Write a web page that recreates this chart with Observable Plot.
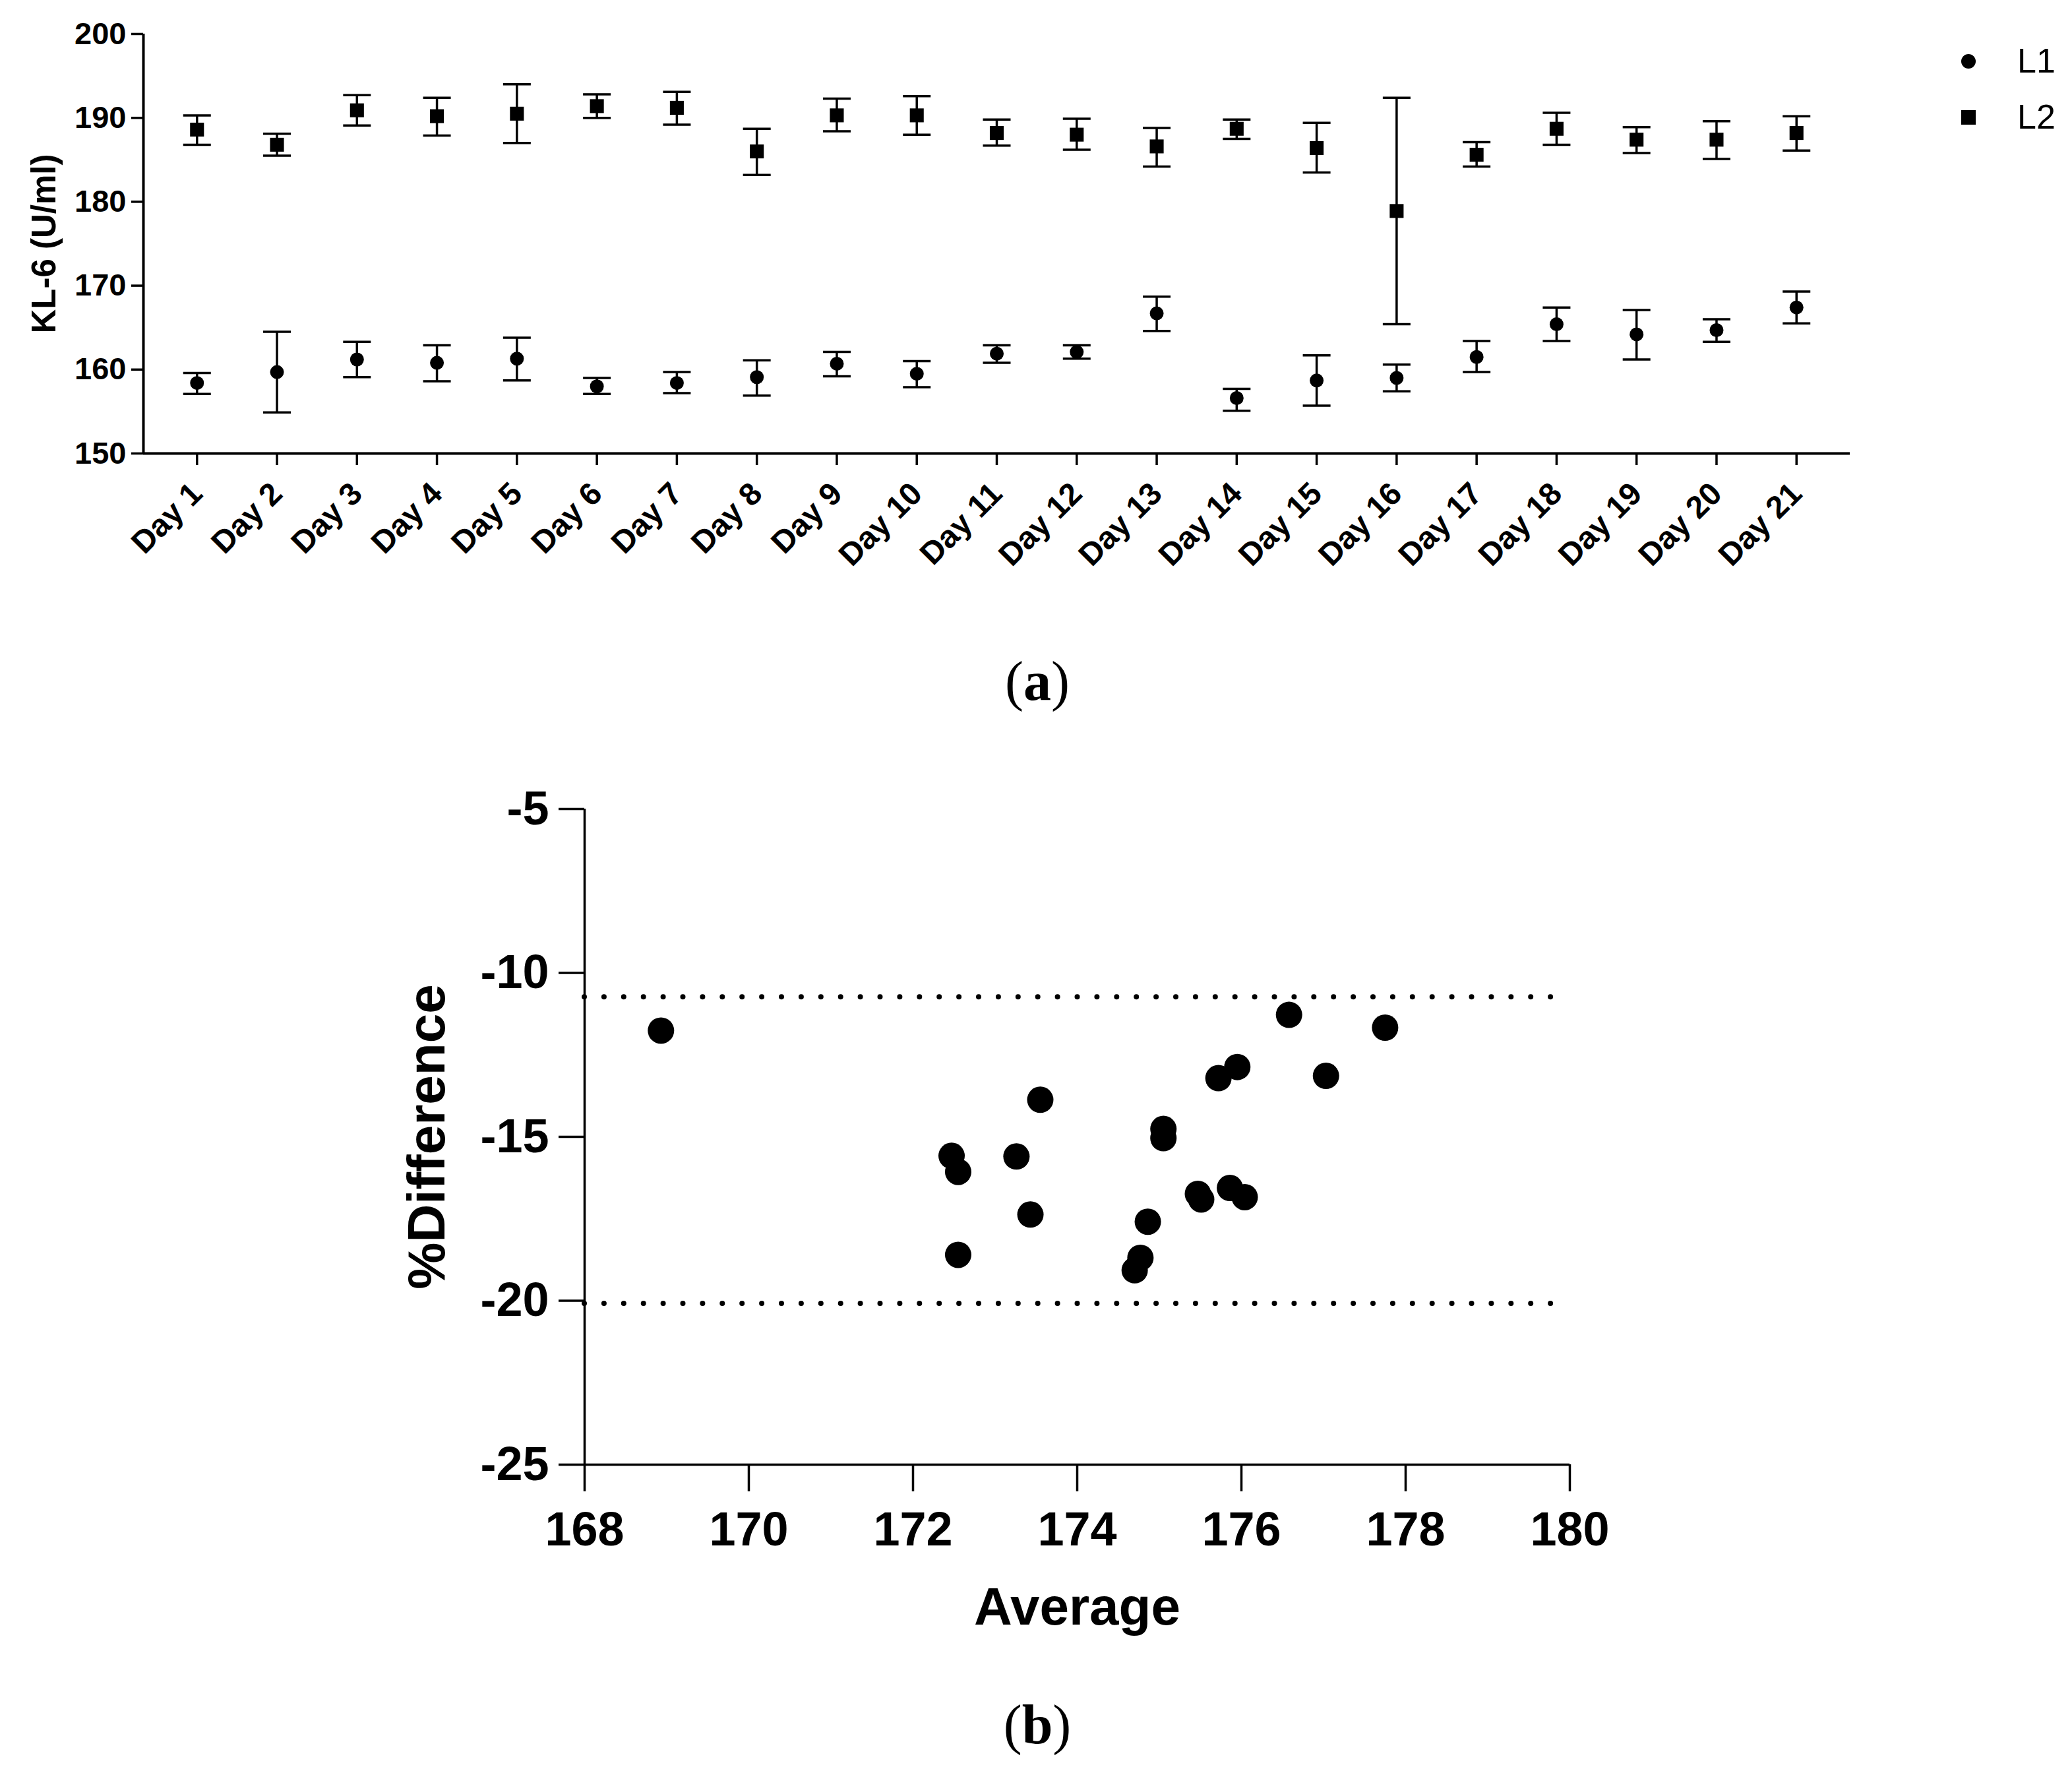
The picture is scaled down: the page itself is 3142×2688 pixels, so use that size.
<!DOCTYPE html>
<html>
<head>
<meta charset="utf-8">
<script src="https://cdn.jsdelivr.net/npm/d3@7"></script>
<script src="https://cdn.jsdelivr.net/npm/@observablehq/plot@0.6"></script>
<style>
  body { margin: 0; background: #fff; }
  #page { position: relative; width: 3142px; height: 2688px; background: #fff; overflow: hidden; }
  .abs { position: absolute; }
  .cap { font-family: "Liberation Serif", "Times New Roman", serif; font-size: 84px; line-height: 1; text-align: center; width: 400px; color: #000; }
</style>
</head>
<body>
<div id="page"></div>
<script>
// ---------- Panel (a) data ----------
const days = ["Day 1","Day 2","Day 3","Day 4","Day 5","Day 6","Day 7","Day 8","Day 9","Day 10","Day 11",
              "Day 12","Day 13","Day 14","Day 15","Day 16","Day 17","Day 18","Day 19","Day 20","Day 21"];
const l1Mean = [158.4,159.7,161.2,160.8,161.3,158.0,158.4,159.1,160.7,159.5,161.9,162.1,166.7,156.6,158.7,159.0,161.5,165.4,164.2,164.7,167.4];
const l1Low  = [157.1,154.9,159.1,158.6,158.7,157.1,157.2,156.9,159.2,157.9,160.8,161.3,164.6,155.1,155.7,157.4,159.7,163.4,161.2,163.3,165.5];
const l1High = [159.6,164.5,163.3,162.9,163.8,159.0,159.7,161.1,162.1,161.0,162.9,162.9,168.7,157.7,161.7,160.6,163.4,167.4,167.1,166.0,169.3];
const l2Mean = [188.6,186.8,190.9,190.2,190.5,191.4,191.2,186.0,190.3,190.3,188.2,188.0,186.6,188.7,186.4,178.9,185.6,188.7,187.4,187.4,188.2];
const l2Low  = [186.8,185.5,189.1,187.9,187.0,190.0,189.2,183.2,188.4,188.0,186.7,186.2,184.2,187.5,183.5,165.4,184.2,186.8,185.8,185.1,186.1];
const l2High = [190.3,188.1,192.7,192.4,194.0,192.8,193.1,188.7,192.3,192.6,189.8,189.9,188.8,189.8,189.4,192.4,187.1,190.6,188.9,189.6,190.2];
const yTicksA = [150,160,170,180,190,200];
const seriesNames = ["L1","L2"];

// ---------- Panel (b) data ----------
const average = [168.93,172.47,172.55,172.55,173.26,173.55,173.43,174.86,174.77,174.70,175.05,175.05,175.47,175.51,175.86,176.04,175.72,175.95,176.58,177.03,177.75];
const pctDiff = [-11.76,-15.58,-16.07,-18.60,-15.60,-13.87,-17.37,-17.59,-18.69,-19.07,-14.76,-15.04,-16.74,-16.91,-16.56,-16.84,-13.21,-12.87,-11.28,-13.14,-11.67];
const limitsB = [-10.73,-20.08];
const limitSpan = [168, 180];
const xTicksB = [168,170,172,174,176,178,180];
const yTicksB = [-5,-10,-15,-20,-25];

const page = document.getElementById("page");
const FONT = "'Liberation Sans', Arial, Helvetica, sans-serif";
const plain = d => String(d); // hyphen-minus as in the original

// ---------- Panel (a) ----------
const dayIdx = days.map((d, i) => i + 1);
const rowsA = [
  ...days.map((d, i) => ({i: i + 1, series: "L1", mean: l1Mean[i], lo: l1Low[i], hi: l1High[i]})),
  ...days.map((d, i) => ({i: i + 1, series: "L2", mean: l2Mean[i], lo: l2Low[i], hi: l2High[i]}))
];
const capSymbol = {
  draw(ctx, size) {
    const r = Math.sqrt(size / Math.PI);
    ctx.moveTo(-r, 0);
    ctx.lineTo(r, 0);
  }
};
const xDomA = [0.33, 21.67];
const plotA = Plot.plot({
  width: 3142, height: 940,
  marginTop: 51, marginBottom: 253, marginLeft: 217, marginRight: 337,
  style: {fontFamily: FONT, background: "transparent", color: "black", overflow: "visible"},
  x: {domain: xDomA},
  y: {domain: [150, 200]},
  marks: [
    Plot.ruleX(rowsA, {x: "i", y1: "lo", y2: "hi", stroke: "black", strokeWidth: 3.5}),
    Plot.dot(rowsA, {x: "i", y: "hi", symbol: capSymbol, r: 21, fill: "none", stroke: "black", strokeWidth: 3.5}),
    Plot.dot(rowsA, {x: "i", y: "lo", symbol: capSymbol, r: 21, fill: "none", stroke: "black", strokeWidth: 3.5}),
    Plot.dot(rowsA.filter(d => d.series === seriesNames[0]), {x: "i", y: "mean", r: 10.5, fill: "black", stroke: "none", symbol: "circle"}),
    Plot.dot(rowsA.filter(d => d.series === seriesNames[1]), {x: "i", y: "mean", r: 11.9, fill: "black", stroke: "none", symbol: "square"}),
    Plot.ruleY([150], {stroke: "black", strokeWidth: 4}),
    Plot.ruleX([xDomA[0]], {stroke: "black", strokeWidth: 4}),
    Plot.axisY({ticks: yTicksA, tickFormat: plain, tickSize: 18, tickPadding: 8, fontSize: 47, fontWeight: "bold",
                strokeWidth: 3.5, label: null}),
    Plot.axisY({ticks: [], label: "KL-6 (U/ml)", labelAnchor: "center", labelArrow: "none",
                labelOffset: 170, fontSize: 51, fontWeight: "bold"}),
    Plot.axisX({ticks: dayIdx, tickFormat: i => days[i - 1], tickRotate: -45, tickSize: 18, tickPadding: 35,
                fontSize: 48, fontWeight: "bold", strokeWidth: 3.5, label: null})
  ]
});
plotA.style.position = "absolute";
plotA.style.left = "0px";
plotA.style.top = "0px";
page.appendChild(plotA);

// Legend for panel (a)
const legendNS = "http://www.w3.org/2000/svg";
const legend = document.createElementNS(legendNS, "svg");
legend.setAttribute("width", "240");
legend.setAttribute("height", "200");
legend.style.position = "absolute";
legend.style.left = "2900px";
legend.style.top = "40px";
legend.innerHTML = `
  <circle cx="85" cy="53" r="11" fill="black"/>
  <rect x="74" y="127" width="22" height="22" fill="black"/>
  <text x="159" y="70" font-family="${FONT.replace(/'/g, "")}" font-size="52" fill="black">${seriesNames[0]}</text>
  <text x="159" y="155" font-family="${FONT.replace(/'/g, "")}" font-size="52" fill="black">${seriesNames[1]}</text>`;
page.appendChild(legend);

// Caption (a)
const capA = document.createElement("div");
capA.className = "abs cap";
capA.style.left = (1573 - 200) + "px";
capA.style.top = "991px";
capA.innerHTML = "(<b>a</b>)";
page.appendChild(capA);

// ---------- Panel (b) ----------
const rowsB = average.map((a, i) => ({a, d: pctDiff[i]}));
const plotB = Plot.plot({
  width: 3142, height: 1380,
  marginTop: 76, marginBottom: 310, marginLeft: 886, marginRight: 762,
  style: {fontFamily: FONT, background: "transparent", color: "black", overflow: "visible"},
  x: {domain: [168, 180]},
  y: {domain: [-25, -5]},
  marks: [
    Plot.ruleY(limitsB, {x1: limitSpan[0], x2: limitSpan[1], stroke: "black", strokeWidth: 8,
                         strokeDasharray: "0 29.9", strokeLinecap: "round"}),
    Plot.dot(rowsB, {x: "a", y: "d", r: 20, fill: "black", stroke: "none"}),
    Plot.ruleY([-25], {stroke: "black", strokeWidth: 3.5}),
    Plot.ruleX([168], {stroke: "black", strokeWidth: 3.5}),
    Plot.axisY({ticks: yTicksB, tickFormat: plain, tickSize: 39, tickPadding: 15, fontSize: 72, fontWeight: "bold",
                strokeWidth: 3.5, label: null}),
    Plot.axisY({ticks: [], label: "%Difference", labelAnchor: "center", labelArrow: "none",
                labelOffset: 269, fontSize: 80, fontWeight: "bold"}),
    Plot.axisX({ticks: xTicksB, tickFormat: plain, tickSize: 41, tickPadding: 30, fontSize: 72, fontWeight: "bold",
                strokeWidth: 3.5, label: null}),
    Plot.axisX({ticks: [], label: "Average", labelAnchor: "center", labelArrow: "none",
                labelOffset: 242, fontSize: 80, fontWeight: "bold"})
  ]
});
plotB.style.position = "absolute";
plotB.style.left = "0px";
plotB.style.top = "1150px";
page.appendChild(plotB);

// Caption (b)
const capB = document.createElement("div");
capB.className = "abs cap";
capB.style.left = (1573 - 200) + "px";
capB.style.top = "2573px";
capB.innerHTML = "(<b>b</b>)";
page.appendChild(capB);
</script>
</body>
</html>
